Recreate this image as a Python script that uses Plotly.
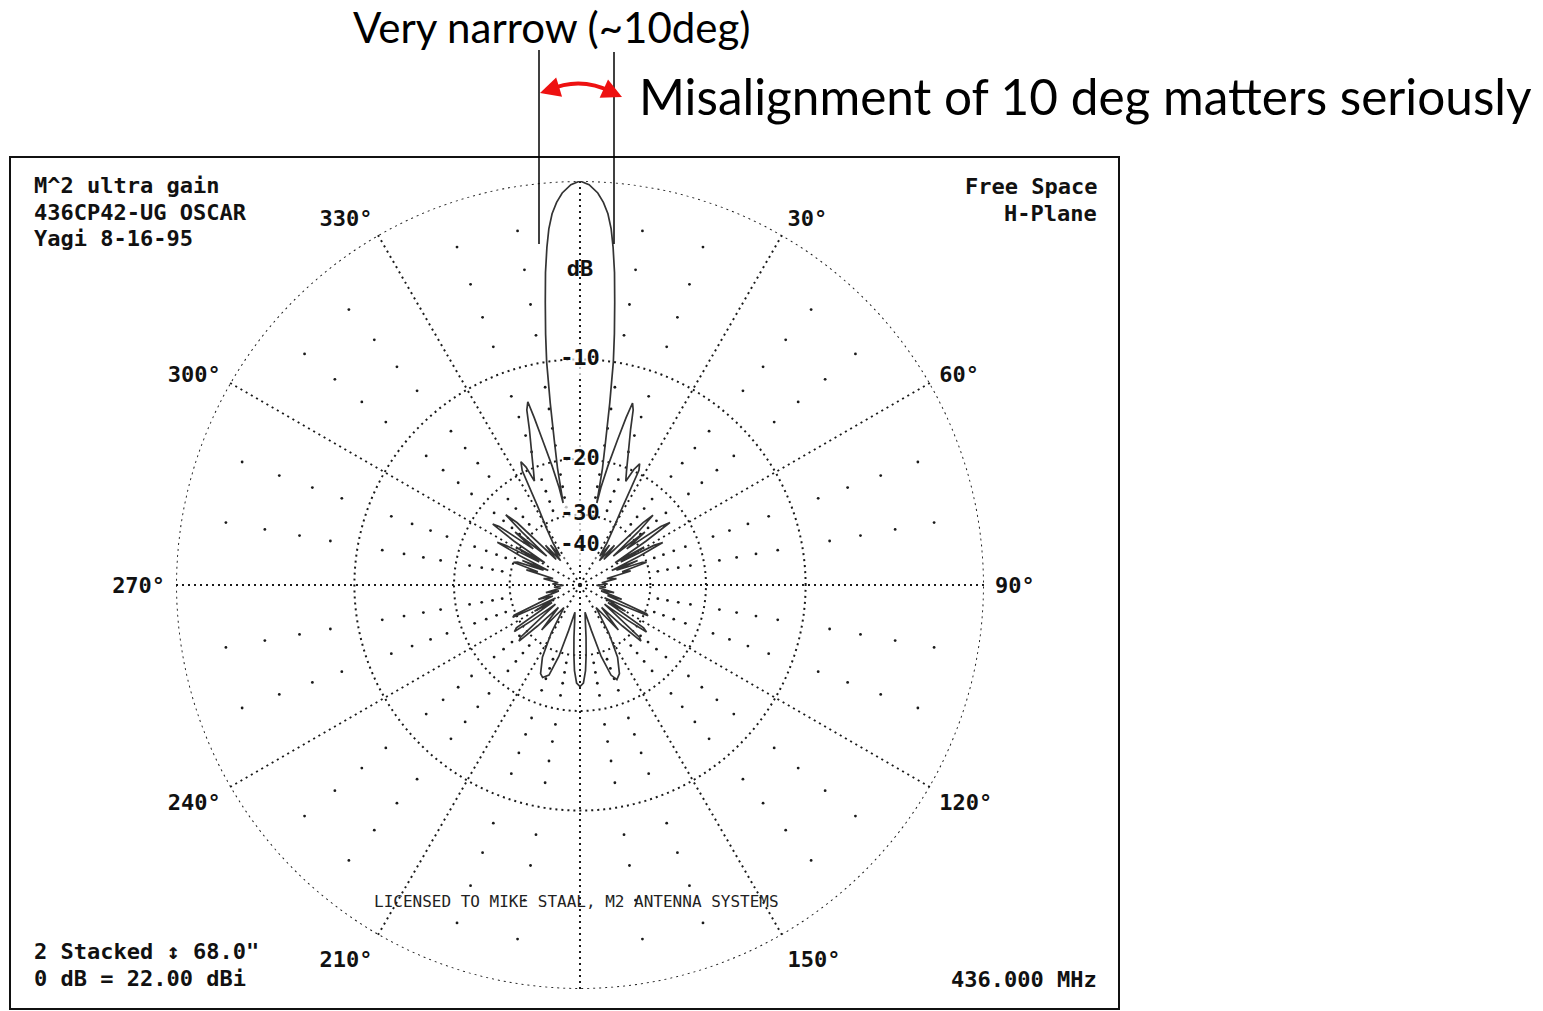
import plotly.graph_objects as go

# H-plane pattern: azimuth (deg, clockwise from boresight) and relative gain (dB)
theta_deg = [
    0.0, 1.3, 2.6, 3.5, 4.3, 5.0, 5.6, 6.3, 7.0, 7.8, 8.5, 9.3, 10.1, 10.9, 11.6, 12.1,
    13.2, 14.5, 15.4, 16.1, 16.9, 18.0, 20.0, 22.2, 23.8, 25.0, 26.2, 27.2, 28.6, 30.5,
    32.7, 34.5, 36.5, 38.5, 41.0, 43.0, 45.3, 46.3, 47.6, 49.0, 50.8, 52.3, 54.1, 55.2,
    56.4, 57.6, 59.3, 60.5, 61.8, 62.8, 64.0, 65.3, 67.0, 68.0, 70.0, 71.2, 72.6, 74.5,
    76.5, 80.0, 84.0, 88.0, 91.0, 95.0, 99.0, 102.5, 105.5, 109.0, 111.0, 113.3, 114.3,
    115.8, 117.5, 120.0, 122.0, 124.0, 125.2, 126.5, 128.0, 131.3, 132.6, 134.0, 136.0,
    139.5, 141.5, 144.5, 149.0, 152.5, 156.0, 158.7, 161.0, 163.5, 166.0, 169.5, 172.0,
    173.4, 175.0, 176.3, 178.0, 180.0,
    182.0, 183.7, 185.0, 186.6, 188.0, 190.5, 194.0, 196.5, 199.0, 202.0, 204.0, 207.5,
    211.0, 215.5, 218.5, 220.5, 224.0, 226.0, 227.4, 228.7, 232.0, 233.5, 234.6, 236.0,
    238.0, 240.0, 242.0, 243.2, 244.3, 245.4, 248.0, 251.0, 254.5, 257.5, 261.0, 265.0,
    269.0, 272.0, 276.0, 280.0, 283.5, 285.8, 287.4, 288.8, 290.2, 292.0, 293.0, 294.7,
    296.0, 297.3, 298.2, 299.5, 300.7, 302.4, 303.6, 304.9, 305.9, 307.7, 309.2, 311.0,
    312.4, 313.4, 314.7, 317.0, 319.0, 321.5, 323.5, 325.5, 327.3, 329.5, 331.7, 333.2,
    334.4, 335.4, 336.3, 337.8, 340.0, 342.0, 343.1, 344.1, 344.7, 345.5, 346.8, 347.9,
    348.4, 349.1, 349.9, 350.7, 351.5, 352.2, 353.0, 353.7, 354.4, 355.0, 355.7, 356.5,
    357.4, 358.7, 360.0,
]
gain_db = [
    0.0, -0.15, -0.5, -0.9, -1.4, -2.1, -3.0, -4.3, -6.0, -8.0, -10.0, -13.5, -17.5, -21.0, -27.0, -24.0,
    -20.5, -17.0, -14.5, -13.0, -13.6, -15.5, -18.0, -20.4, -21.8, -19.8, -18.8, -19.6, -26.0, -31.0,
    -36.0, -42.0, -36.0, -44.0, -35.0, -42.0, -26.0, -23.8, -28.0, -38.0, -27.0, -33.0, -24.0, -22.4,
    -28.0, -39.0, -29.0, -37.0, -27.0, -25.2, -31.0, -42.0, -32.0, -40.0, -31.0, -30.0, -38.0, -35.0,
    -46.0, -41.0, -50.0, -46.0, -55.0, -47.0, -52.0, -42.0, -50.0, -38.0, -45.0, -29.5, -29.0,
    -38.0, -46.0, -35.0, -43.0, -28.5, -27.5, -33.0, -44.0, -28.0, -27.2, -33.0, -44.0,
    -33.0, -40.0, -46.0, -34.0, -27.5, -24.5, -23.7, -24.8, -29.0, -37.0, -46.0, -40.0,
    -35.0, -30.0, -26.6, -24.3, -23.7,
    -24.3, -26.6, -30.0, -35.0, -40.0, -46.0, -37.0, -29.0, -24.8, -24.0, -24.5, -27.5,
    -34.0, -46.0, -40.0, -33.0, -44.0, -33.0, -27.2, -28.0, -44.0, -33.0, -27.7, -28.5,
    -43.0, -35.0, -46.0, -38.0, -29.0, -29.5, -45.0, -38.0, -50.0, -42.0, -52.0, -47.0,
    -55.0, -46.0, -50.0, -41.0, -46.0, -34.0, -38.0, -30.0, -31.0, -40.0, -32.0, -42.0,
    -31.0, -25.2, -27.0, -37.0, -29.0, -39.0, -28.0, -22.9, -24.0, -33.0, -27.0, -38.0,
    -28.0, -23.6, -26.0, -42.0, -35.0, -44.0, -36.0, -42.0, -36.0, -31.0, -26.0, -19.7,
    -18.6, -19.5, -21.8, -20.4, -18.0, -15.5, -13.6, -12.9, -14.5, -17.0, -20.5, -24.0,
    -27.0, -21.0, -17.5, -13.5, -10.0, -8.0, -6.0, -4.3, -3.0, -2.1, -1.4, -0.9,
    -0.5, -0.15, 0.0,
]

angle_ticks = list(range(0, 360, 30))
angle_labels = ["", "30°", "60°", "90°", "120°", "150°", "", "210°", "240°", "270°", "300°", "330°"]
ring_db = [-10, -20, -30]
scale_db = [-4.3, -10, -20, -30, -40]
scale_labels = ["dB", "-10", "-20", "-30", "-40"]

title_lines = ["M^2 ultra gain", "436CP42-UG OSCAR", "Yagi 8-16-95"]
plane_lines = ["Free Space", "H-Plane"]
stack_lines = ["2 Stacked ↕ 68.0\"", "0 dB = 22.00 dBi"]
freq_text = "436.000 MHz"
license_text = "LICENSED TO MIKE STAAL, M2 ANTENNA SYSTEMS"


def arrl(db):
    # ARRL log-periodic radius: 0.89 per 2 dB
    return 0.89 ** (-db / 2.0)


W, H = 1543, 1011
def px(x):
    return x / W
def py(y):
    return 1 - y / H

MONO = "DejaVu Sans Mono"
DOTS = "2px,4px"
INK = "#1a1a1a"

fig = go.Figure()

# outer 0 dB ring (dotted)
fig.add_trace(go.Scatterpolar(r=[1.0] * 361, theta=list(range(361)), mode="lines",
                              line=dict(color=INK, width=2, dash=DOTS), hoverinfo="skip"))

# minor dot grid: every 10 deg, every 2 dB
gr, gt = [], []
for a in range(0, 360, 10):
    if a % 30 == 0:
        continue
    for d in [-2, -4, -6, -8, -12, -14, -16, -18, -22, -24, -26, -28]:
        gr.append(arrl(d))
        gt.append(a)
fig.add_trace(go.Scatterpolar(r=gr, theta=gt, mode="markers",
                              marker=dict(size=2.8, color=INK), hoverinfo="skip"))

# pattern
fig.add_trace(go.Scatterpolar(r=[arrl(g) for g in gain_db], theta=theta_deg, mode="lines",
                              line=dict(color="#333", width=1.7)))

# scale labels on the 0 deg spoke (white patch under each so the spoke doesn't run through)
fig.add_trace(go.Scatterpolar(r=[arrl(d) for d in scale_db[1:]], theta=[0] * 4, mode="markers",
                              marker=dict(symbol="square", size=[30, 30, 30, 30], color="white"),
                              hoverinfo="skip"))
fig.add_trace(go.Scatterpolar(r=[arrl(d) for d in scale_db], theta=[0] * len(scale_db),
                              mode="text", text=scale_labels, textposition="middle center",
                              textfont=dict(family=MONO, size=22, color="#111", weight="bold"),
                              hoverinfo="skip"))

R = 404
cx, cy = 580, 585
fig.update_layout(
    width=W, height=H,
    margin=dict(l=0, r=0, t=0, b=0),
    paper_bgcolor="white",
    showlegend=False,
    polar=dict(
        domain=dict(x=[px(cx - R), px(cx + R)], y=[py(cy + R), py(cy - R)]),
        bgcolor="white",
        angularaxis=dict(rotation=90, direction="clockwise", tickvals=angle_ticks, ticktext=angle_labels,
                         ticks="outside", ticklen=6, tickcolor="rgba(0,0,0,0)",
                         tickfont=dict(family=MONO, size=22, color="#111", weight="bold"),
                         showline=False, gridcolor=INK, gridwidth=2, griddash=DOTS),
        radialaxis=dict(range=[0, 1], tickvals=[arrl(d) for d in ring_db], showticklabels=False,
                        ticks="", showline=False, gridcolor=INK, gridwidth=2, griddash=DOTS),
    ),
)

# frame
fig.add_shape(type="rect", xref="paper", yref="paper", x0=px(10), x1=px(1119), y0=py(1009), y1=py(157),
              line=dict(color="#111", width=2))

ann = []
for i, t in enumerate(title_lines):
    ann.append(dict(x=px(32), y=py(185 + 27 * i), text=t, xanchor="left"))
for i, t in enumerate(plane_lines):
    ann.append(dict(x=px(1099), y=py(186 + 27 * i), text=t, xanchor="right"))
for i, t in enumerate(stack_lines):
    ann.append(dict(x=px(32), y=py(951 + 27 * i), text=t, xanchor="left"))
ann.append(dict(x=px(1099), y=py(979), text=freq_text, xanchor="right"))
for a in ann:
    fig.add_annotation(xref="paper", yref="paper", yanchor="middle", showarrow=False,
                       font=dict(family=MONO, size=22, color="#111", weight="bold"), **a)
fig.add_annotation(x=px(576), y=py(901), xref="paper", yref="paper", text=license_text,
                   showarrow=False, yanchor="middle",
                   font=dict(family=MONO, size=16, color="#222"))

# callouts above the plot
fig.add_annotation(x=px(552), y=py(27), xref="paper", yref="paper", text="Very narrow (~10deg)",
                   showarrow=False, yanchor="middle", font=dict(family="Lato", size=42, color="black"))
fig.add_annotation(x=px(637), y=py(96), xref="paper", yref="paper",
                   text="Misalignment of 10 deg matters seriously", xanchor="left", yanchor="middle",
                   showarrow=False, font=dict(family="Lato", size=49.5, color="black"))
for x, y0 in [(539, 50), (614, 52)]:
    fig.add_shape(type="line", xref="paper", yref="paper", x0=px(x), x1=px(x), y0=py(y0), y1=py(244),
                  line=dict(color="black", width=1.5))
fig.add_shape(type="path", xref="paper", yref="paper",
              path=f"M {px(549)},{py(90)} Q {px(580)},{py(76)} {px(612)},{py(92)}",
              line=dict(color="#ee1111", width=4))
fig.add_annotation(x=px(540), y=py(93), ax=13, ay=-4, xref="paper", yref="paper", text="",
                   showarrow=True, arrowhead=2, arrowsize=1, arrowwidth=4, arrowcolor="#ee1111")
fig.add_annotation(x=px(622), y=py(97), ax=-13, ay=-6, xref="paper", yref="paper", text="",
                   showarrow=True, arrowhead=2, arrowsize=1, arrowwidth=4, arrowcolor="#ee1111")

# drop the default 8px page margin so the figure fills the window exactly
fig.write_html("out.html", config={"displayModeBar": False},
               post_script="document.body.style.margin='0';")
